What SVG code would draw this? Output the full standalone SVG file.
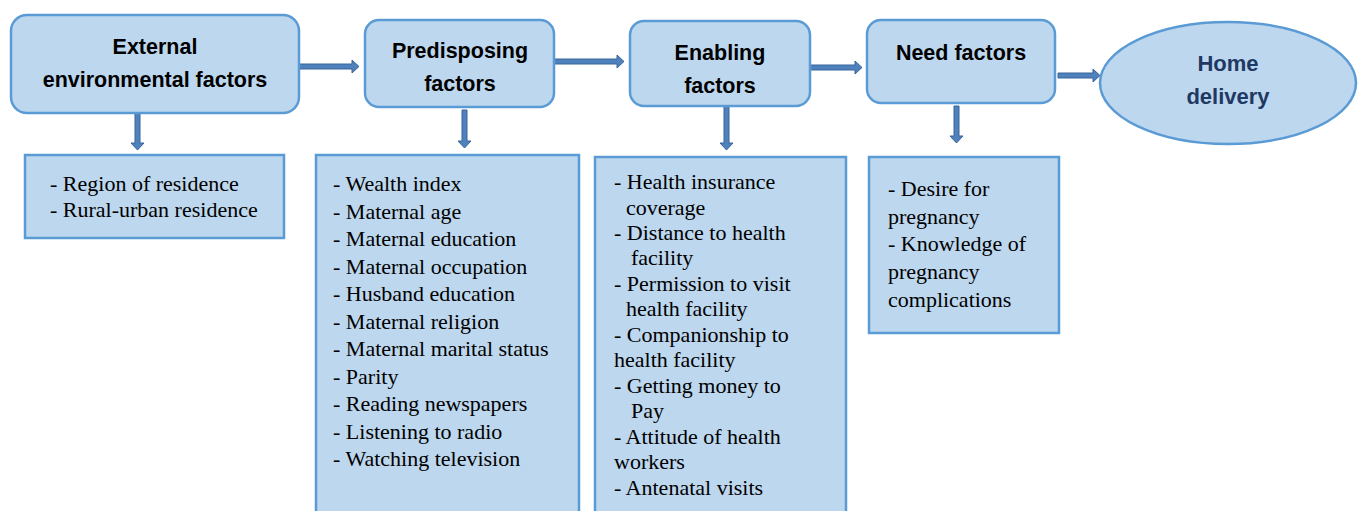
<svg xmlns="http://www.w3.org/2000/svg" width="1360" height="511" viewBox="0 0 1360 511">
<style>
.box{fill:#bdd7ee;stroke:#5b9bd5;stroke-width:2.5}
.sub{fill:#bdd7ee;stroke:#5b9bd5;stroke-width:2.5}
.h{font-family:"Liberation Sans",Arial,sans-serif;font-weight:bold;font-size:21.5px;fill:#000;text-anchor:middle}
.hb{font-family:"Liberation Sans",Arial,sans-serif;font-weight:bold;font-size:22px;fill:#1f3864;text-anchor:middle}
.t{font-family:"Liberation Serif","Times New Roman",serif;font-size:22px;fill:#000}
.arr{fill:#4f81bd;stroke:#3a6598;stroke-width:1}
</style>
<rect width="1360" height="511" fill="#fff"/>
<g id="connectors">
<path class="arr" d="M299,64 H352 V60 L359,66.5 L352,73 V69 H299 Z"/>
<path class="arr" d="M554,59 H617 V55 L624,61.5 L617,68 V64 H554 Z"/>
<path class="arr" d="M810,65 H855 V61 L862,67.5 L855,74 V70 H810 Z"/>
<path class="arr" d="M1058,73 H1093 V69 L1100,75.5 L1093,82 V78 H1058 Z"/>
<path class="arr" d="M135,113 V143 H131 L137.5,150 L144,143 H140 V113 Z"/>
<path class="arr" d="M462,110 V141 H458 L464.5,148 L471,141 H467 V110 Z"/>
<path class="arr" d="M724,106 V143 H720 L726.5,150 L733,143 H729 V106 Z"/>
<path class="arr" d="M954,106 V136 H950 L956.5,143 L963,136 H959 V106 Z"/>
</g>
<g id="external">
<rect class="box" x="11" y="15" width="288" height="98" rx="16"/>
<text class="h" x="155" y="54">External</text>
<text class="h" x="155" y="87">environmental factors</text>
</g>
<g id="external-list">
<rect class="sub" x="25" y="155" width="259" height="83"/>
<text class="t" x="50" y="191">- Region of residence</text>
<text class="t" x="50" y="217">- Rural-urban residence</text>
</g>
<g id="predisposing">
<rect class="box" x="365" y="20" width="189" height="87" rx="14"/>
<text class="h" x="460" y="58">Predisposing</text>
<text class="h" x="460" y="91">factors</text>
</g>
<g id="predisposing-list">
<rect class="sub" x="316" y="155" width="263" height="370"/>
<text class="t" x="333" y="191">- Wealth index</text>
<text class="t" x="333" y="218.5">- Maternal age</text>
<text class="t" x="333" y="246">- Maternal education</text>
<text class="t" x="333" y="273.5">- Maternal occupation</text>
<text class="t" x="333" y="301">- Husband education</text>
<text class="t" x="333" y="328.5">- Maternal religion</text>
<text class="t" x="333" y="356">- Maternal marital status</text>
<text class="t" x="333" y="383.5">- Parity</text>
<text class="t" x="333" y="411">- Reading newspapers</text>
<text class="t" x="333" y="438.5">- Listening to radio</text>
<text class="t" x="333" y="466">- Watching television</text>
</g>
<g id="enabling">
<rect class="box" x="630" y="21" width="180" height="85" rx="14"/>
<text class="h" x="720" y="60">Enabling</text>
<text class="h" x="720" y="93">factors</text>
</g>
<g id="enabling-list">
<rect class="sub" x="595" y="157" width="251" height="370"/>
<text class="t" x="614" y="189">- Health insurance</text>
<text class="t" x="626" y="214.5">coverage</text>
<text class="t" x="614" y="240">- Distance to health</text>
<text class="t" x="631" y="265">facility</text>
<text class="t" x="614" y="290.5">- Permission to visit</text>
<text class="t" x="626" y="316">health facility</text>
<text class="t" x="614" y="342">- Companionship to</text>
<text class="t" x="614" y="367">health facility</text>
<text class="t" x="614" y="393">- Getting money to</text>
<text class="t" x="631" y="418">Pay</text>
<text class="t" x="614" y="443.5">- Attitude of health</text>
<text class="t" x="614" y="469">workers</text>
<text class="t" x="614" y="494.5">- Antenatal visits</text>
</g>
<g id="need">
<rect class="box" x="867" y="20" width="188" height="83" rx="14"/>
<text class="h" x="961" y="60">Need factors</text>
</g>
<g id="need-list">
<rect class="sub" x="869" y="157" width="190" height="176"/>
<text class="t" x="888" y="196">- Desire for</text>
<text class="t" x="888" y="224">pregnancy</text>
<text class="t" x="888" y="251">- Knowledge of</text>
<text class="t" x="888" y="279">pregnancy</text>
<text class="t" x="888" y="307">complications</text>
</g>
<g id="home-delivery">
<ellipse class="box" cx="1228" cy="83" rx="128" ry="61"/>
<text class="hb" x="1228" y="71">Home</text>
<text class="hb" x="1228" y="104">delivery</text>
</g>
</svg>
